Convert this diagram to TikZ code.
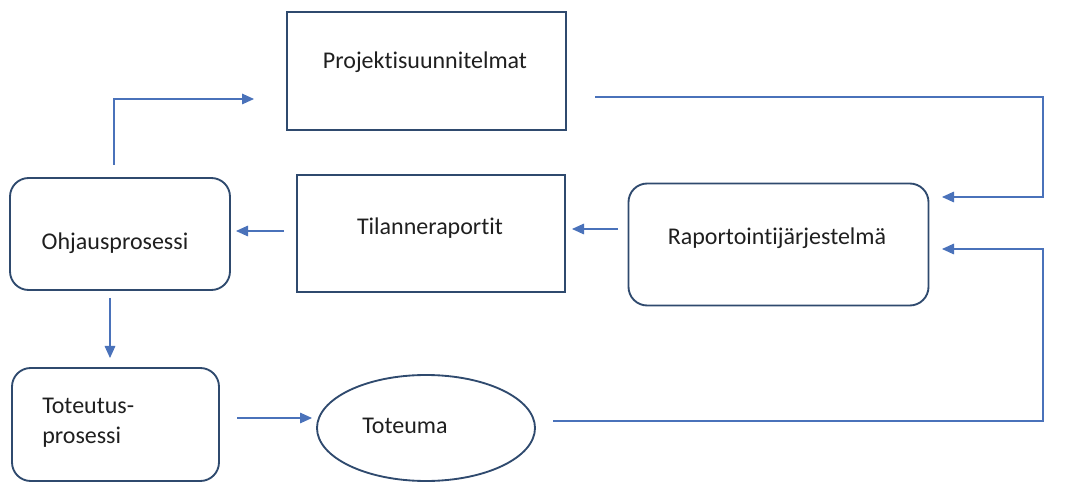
\documentclass[tikz,border=0pt]{standalone}
\usepackage{fontspec}
\setmainfont{Carlito}[Ligatures=NoCommon]
\usetikzlibrary{arrows.meta,shapes.geometric}
\definecolor{boxline}{HTML}{2F4A6E}
\definecolor{flow}{HTML}{4A72BA}
\begin{document}
\begin{tikzpicture}[x=0.75pt,y=-0.75pt,
  every node/.style={font=\fontsize{18}{22.5}\selectfont, text=black!88},
  plainbox/.style={draw=boxline, line width=1.4pt, inner sep=0pt},
  roundbox/.style={draw=boxline, line width=1.4pt, rounded corners=14pt, inner sep=0pt},
  flowline/.style={draw=flow, line width=0.8pt},
  flowarrow/.style={flowline, -{Triangle[length=9pt,width=8pt]}}]
\useasboundingbox (0,0) rectangle (1067,484);

% boxes
\node[plainbox, minimum width=279*0.75pt, minimum height=118*0.75pt] (plan) at (426.5,71) {};
\node at (425,62) {Projektisuunnitelmat};
\node[plainbox, minimum width=268*0.75pt, minimum height=117*0.75pt] (tila) at (431,233.5) {};
\node at (430,228) {Tilanneraportit};
\node[roundbox, minimum width=220*0.75pt, minimum height=112*0.75pt] (ohj) at (120,234) {};
\node at (115,243) {Ohjausprosessi};
\node[roundbox, minimum width=300*0.75pt, minimum height=122*0.75pt] (rap) at (778.5,244.5) {};
\node at (777,238) {Raportointijärjestelmä};
\node[roundbox, minimum width=207*0.75pt, minimum height=113*0.75pt] (tot) at (115.5,424.5) {};
\node[anchor=west, align=left, inner sep=0pt] at (42,423) {Toteutus-\\prosessi};
\node[draw=boxline, line width=1.4pt, ellipse, minimum width=218*0.75pt, minimum height=106*0.75pt, inner sep=0pt] (toteuma) at (426,428) {};
\node at (405,426) {Toteuma};

% connector end points
\coordinate (a1) at (114,165);
\coordinate (a2) at (254,99);
\coordinate (b1) at (595,97);
\coordinate (b2) at (942,197);
\coordinate (c1) at (618,229);
\coordinate (c2) at (572,229);
\coordinate (d1) at (284,231);
\coordinate (d2) at (236,231);
\coordinate (e1) at (110,298);
\coordinate (e2) at (110,358);
\coordinate (f1) at (237,418);
\coordinate (f2) at (312,418);
\coordinate (g1) at (553,421);
\coordinate (g2) at (942,249);

% connectors
\draw[flowarrow] (a1) |- (a2);
\draw[flowarrow] (b1) -- (1043,97) |- (b2);
\draw[flowarrow] (c1) -- (c2);
\draw[flowarrow] (d1) -- (d2);
\draw[flowarrow] (e1) -- (e2);
\draw[flowarrow] (f1) -- (f2);
\draw[flowarrow] (g1) -- (1043,421) |- (g2);
\end{tikzpicture}
\end{document}
